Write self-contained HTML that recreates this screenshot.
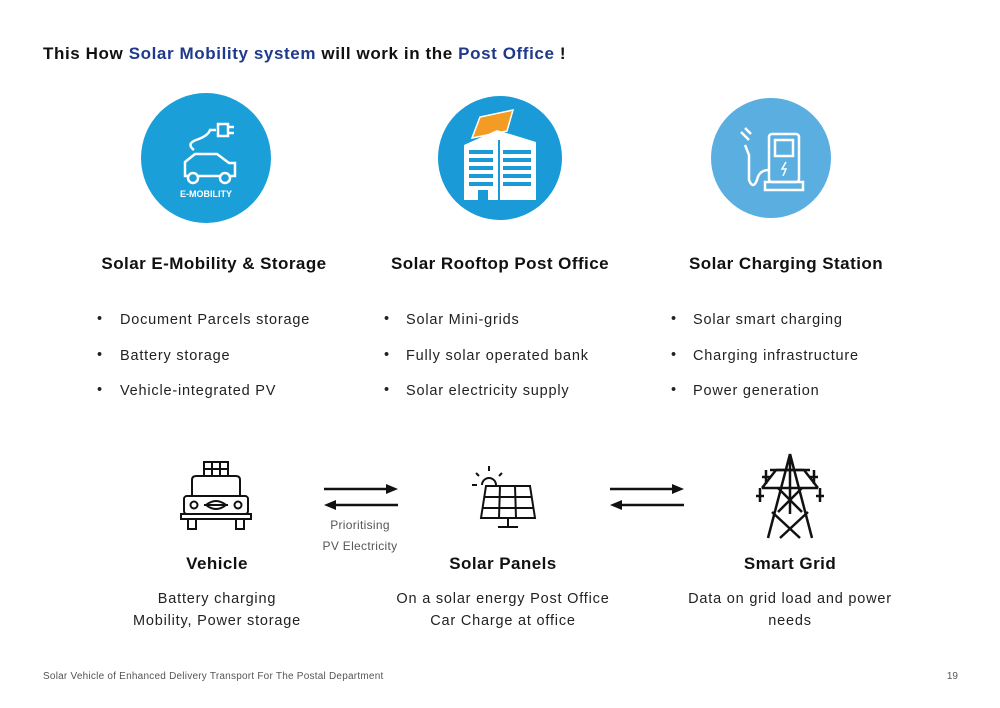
<!DOCTYPE html>
<html><head><meta charset="utf-8"><style>
body{margin:0;width:1000px;height:708px;background:#fff;font-family:"Liberation Sans",sans-serif;position:relative;overflow:hidden}
</style></head><body>
<svg width="1000" height="708" style="position:absolute;left:0;top:0" font-family="Liberation Sans, sans-serif">
<text x="43" y="59" font-size="17" font-weight="bold" fill="#111" letter-spacing="0.6">This How <tspan fill="#1f3a8a">Solar Mobility system</tspan> will work in the <tspan fill="#1f3a8a">Post Office</tspan> !</text>
<!-- circle 1 -->
<circle cx="206" cy="158" r="65" fill="#1b9fd8"/>
<g fill="none" stroke="#fff" stroke-width="2.5">
<path d="M185 176 v-14 l10 -8 h22 l12 9 h6 v13 z"/>
<circle cx="193" cy="178" r="5" fill="#1b9fd8"/><circle cx="225" cy="178" r="5" fill="#1b9fd8"/>
<path d="M194 150 q-8 -6 2 -10 q12 -4 14 -10 h6"/>
<rect x="218" y="124" width="10" height="12"/>
<path d="M228 127 h6 M228 133 h6"/>
</g>
<text x="206" y="197" font-size="9" font-weight="bold" fill="#fff" text-anchor="middle">E-MOBILITY</text>
<!-- circle 2 -->
<circle cx="500" cy="158" r="62" fill="#1a9ad6"/>
<polygon points="472,138 480,117 513,110 507,131" fill="#f29c25" stroke="#fff" stroke-width="1.5"/>
<polygon points="464,145 497,130 536,142 536,200 464,200" fill="#fff"/>
<g fill="#1a9ad6">
<rect x="469" y="150" width="24" height="4"/><rect x="469" y="158" width="24" height="4"/><rect x="469" y="166" width="24" height="4"/><rect x="469" y="174" width="24" height="4"/><rect x="469" y="182" width="24" height="4"/>
<rect x="503" y="150" width="28" height="4"/><rect x="503" y="158" width="28" height="4"/><rect x="503" y="166" width="28" height="4"/><rect x="503" y="174" width="28" height="4"/><rect x="503" y="182" width="28" height="4"/>
<rect x="498" y="140" width="2" height="60"/><rect x="478" y="190" width="10" height="10"/>
</g>
<!-- circle 3 -->
<circle cx="771" cy="158" r="60" fill="#5aaee0"/>
<g fill="none" stroke="#fff" stroke-width="2.5">
<rect x="769" y="134" width="30" height="48" rx="3"/>
<rect x="775" y="140" width="18" height="16"/>
<path d="M765 190 h38 v-8 h-38 z"/>
<path d="M769 170 q-10 0 -12 10 q-4 10 -8 0 v-25 l-4 -10"/>
<path d="M741 132 l8 8 M745 128 l6 6"/>
</g>
<path d="M786 162 l-4 7 h4 l-3 7" stroke="#fff" stroke-width="1.5" fill="none"/>
<!-- headings -->
<g font-size="17" font-weight="bold" fill="#111" text-anchor="middle" letter-spacing="0.45">
<text x="214" y="269">Solar E-Mobility &amp; Storage</text>
<text x="500" y="269">Solar Rooftop Post Office</text>
<text x="786" y="269">Solar Charging Station</text>
</g>
<g font-size="14.5" fill="#222">
<text x="97" y="323">•</text><text x="97" y="359">•</text><text x="97" y="394">•</text>
<text x="384" y="323">•</text><text x="384" y="359">•</text><text x="384" y="394">•</text>
<text x="671" y="323">•</text><text x="671" y="359">•</text><text x="671" y="394">•</text>
</g>
<g font-size="14.5" fill="#222" letter-spacing="0.8">
<text x="120" y="324">Document Parcels storage</text>
<text x="120" y="360">Battery storage</text>
<text x="120" y="395">Vehicle-integrated PV</text>
<text x="406" y="324">Solar Mini-grids</text>
<text x="406" y="360">Fully solar operated bank</text>
<text x="406" y="395">Solar electricity supply</text>
<text x="693" y="324">Solar smart charging</text>
<text x="693" y="360">Charging infrastructure</text>
<text x="693" y="395">Power generation</text>
</g>
<!-- vehicle -->
<g fill="none" stroke="#111" stroke-width="2">
<rect x="204" y="462" width="24" height="14"/><path d="M212 462 v14 M220 462 v14 M204 469 h24"/>
<path d="M192 496 v-16 q0 -4 4 -4 h40 q4 0 4 4 v16"/>
<rect x="184" y="496" width="64" height="18" rx="3"/>
<rect x="181" y="514" width="70" height="5"/>
<path d="M188 519 v10 h8 v-10 M236 519 v10 h8 v-10"/>
<circle cx="194" cy="505" r="3.5"/><circle cx="238" cy="505" r="3.5"/>
<path d="M206 505 q10 -8 20 0 q-10 8 -20 0 M204 505 h24"/>
</g>
<!-- arrows -->
<g stroke="#111" stroke-width="2.5">
<line x1="324" y1="489" x2="388" y2="489"/><line x1="334" y1="505" x2="398" y2="505"/>
<line x1="610" y1="489" x2="674" y2="489"/><line x1="620" y1="505" x2="684" y2="505"/>
</g>
<polygon points="398,489 386,484 386,494" fill="#111"/>
<polygon points="324,505 336,500 336,510" fill="#111"/>
<polygon points="684,489 672,484 672,494" fill="#111"/>
<polygon points="610,505 622,500 622,510" fill="#111"/>
<text x="360" y="529" font-size="12" fill="#555" text-anchor="middle" letter-spacing="0.3">Prioritising</text>
<text x="360" y="550" font-size="12" fill="#555" text-anchor="middle" letter-spacing="0.3">PV Electricity</text>
<!-- solar panel -->
<g fill="none" stroke="#111" stroke-width="2">
<path d="M482 485 a7 7 0 0 1 14 0"/>
<path d="M489 466 v5 M476 473 l3 3 M502 473 l-3 3 M472 485 h5"/>
<polygon points="486,486 530,486 535,518 481,518"/>
<path d="M500 486 l-1 32 M515 486 l1 32 M484 497 h48 M483 508 h50"/>
<path d="M508 518 v8 M498 527 h20"/>
</g>
<!-- tower -->
<g fill="none" stroke="#111" stroke-width="2.5">
<path d="M790 454 l-22 84 M790 454 l22 84 M790 454 v60"/>
<path d="M770 470 h40 M762 488 h56 M776 470 l-14 18 M804 470 l14 18"/>
<path d="M776 470 l28 0 M778 488 l24 24 M802 488 l-24 24 M772 512 l28 26 M808 512 l-28 26"/>
<path d="M766 470 v14 M814 470 v14 M760 488 v14 M820 488 v14 M762 477 h8 M810 477 h8 M756 496 h8 M816 496 h8"/>
</g>
<g font-size="17" font-weight="bold" fill="#111" text-anchor="middle" letter-spacing="0.45">
<text x="217" y="569">Vehicle</text>
<text x="503" y="569">Solar Panels</text>
<text x="790" y="569">Smart Grid</text>
</g>
<g font-size="14.5" fill="#222" text-anchor="middle" letter-spacing="0.8">
<text x="217" y="603">Battery charging</text>
<text x="217" y="625">Mobility, Power storage</text>
<text x="503" y="603">On a solar energy Post Office</text>
<text x="503" y="625">Car Charge at office</text>
<text x="790" y="603">Data on grid load and power</text>
<text x="790" y="625">needs</text>
</g>
<text x="43" y="679" font-size="10" fill="#555" letter-spacing="0.23">Solar Vehicle of Enhanced Delivery Transport For The Postal Department</text>
<text x="958" y="679" font-size="10" fill="#555" text-anchor="end">19</text>
</svg>
</body></html>
